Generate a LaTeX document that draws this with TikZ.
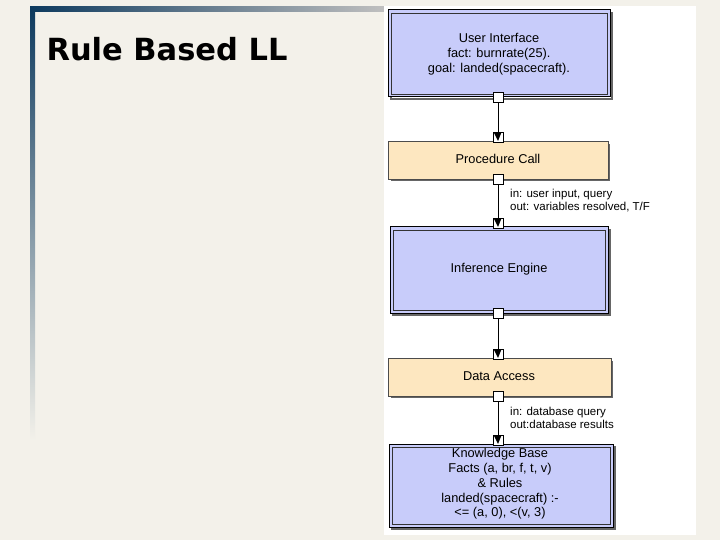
\documentclass[tikz,border=0pt]{standalone}
\usepackage{fontspec}
\setmainfont{Liberation Sans}
\newfontfamily\titlefont{DejaVu Sans}
\usetikzlibrary{shadings}
\definecolor{bg}{HTML}{F3F1EA}
\definecolor{dblue}{HTML}{0D3A5E}
\definecolor{lav}{HTML}{C8CCFA}
\definecolor{peach}{HTML}{FDE7C0}
\tikzset{
 x=1pt,y=-1pt,
 dbl/.style={draw=black,line width=1pt,fill=lav},
 inr/.style={draw=black!80,line width=0.6pt},
 sgl/.style={draw=black!70,line width=0.8pt,fill=peach},
 txt/.style={font=\fontsize{12.8}{14.8}\selectfont,align=center,inner sep=0},
 lbl/.style={font=\fontsize{11.5}{12.5}\selectfont,align=left,inner sep=0,anchor=north west},
 port/.style={draw=black,fill=white,line width=0.7pt,minimum size=10pt,inner sep=0},
 conn/.style={draw=black,line width=0.8pt},
}
\begin{document}
\begin{tikzpicture}
\useasboundingbox (0,0) rectangle (720,540);
\fill[bg] (0,0) rectangle (720,540);
\shade[top color=dblue,bottom color=bg] (30,8) rectangle (35,440);
\shade[left color=dblue,right color=black!25] (30,7) rectangle (384,12);
\fill[white] (384,6) rectangle (696,535);
\node[anchor=west,font=\titlefont\bfseries\fontsize{30.5}{33}\selectfont] (title) at (43,49) {Rule Based LL};
% boxes
\draw[black!60,line width=1.5pt] (391,13) rectangle (612,99);
\draw[dbl] (388,10) rectangle (610,97);
\draw[inr] (391,13) rectangle (607,94);
\node[txt] (ui) at (499,54) {User Interface\\fact: burnrate(25).\\goal: landed(spacecraft).};
\fill[black!60] (391,144) rectangle (610,181);
\draw[sgl] (388,141) rectangle (608,179);
\node[txt] (pc) at (498,159) {Procedure Call};
\draw[black!60,line width=1.5pt] (393,230) rectangle (610,315);
\draw[dbl] (390,227) rectangle (608,313);
\draw[inr] (393,230) rectangle (605,310);
\node[txt] (ie) at (499,269) {Inference Engine};
\fill[black!60] (391,361) rectangle (613,398);
\draw[sgl] (388,358) rectangle (611,396);
\node[txt] (da) at (499,376) {Data Access};
\draw[black!60,line width=1.5pt] (392,447) rectangle (615,529);
\draw[dbl] (389,444) rectangle (613,527);
\draw[inr] (392,447) rectangle (610,524);
\node[txt] (kb) at (500,484) {Knowledge Base\\Facts (a, br, f, t, v)\\\& Rules\\landed(spacecraft) :-\\<= (a, 0), <(v, 3)};
% ports and connectors
\foreach \n/\ya/\yb in {p1/97/141, p2/179/227, p3/313/358, p4/396/444}{
  \node[port] (\n o) at (498,\ya) {};
  \node[port] (\n i) at (498,\yb-4) {};
  \draw[conn] (\n o.south) -- (\n i.north);
  \fill[black] (\n i.north west) ++(1.5,1.5) -- ++(7,0) -- (498,\yb) -- cycle;
}
\node[lbl] (l1) at (510,189) {in: user input, query\\out: variables resolved, T/F};
\node[lbl] (l2) at (510,407) {in: database query\\out:database results};
\end{tikzpicture}
\end{document}
